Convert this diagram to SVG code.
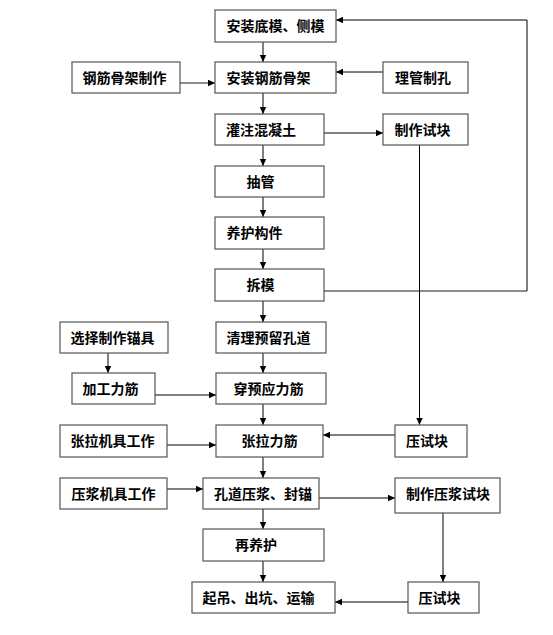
<svg xmlns="http://www.w3.org/2000/svg" width="553" height="635" viewBox="0 0 553 635">
<style>
.box{fill:#fff;stroke:#555;stroke-width:1.2}
.t{font-family:"Noto Sans CJK SC","Noto Sans CJK JP",sans-serif;font-size:14px;font-weight:700;fill:#000}
.c{stroke:#000;stroke-width:1;fill:none}
.g{stroke:#666;stroke-width:1.4;fill:none}
</style>
<defs>
<marker id="a" markerUnits="userSpaceOnUse" markerWidth="8" markerHeight="8" refX="7" refY="4" orient="auto">
<path d="M0,0.8 L7,4 L0,7.2 Z" fill="#000"/>
</marker>
</defs>
<rect width="553" height="635" fill="#fff"/>
<g id="connectors">
<path class="c" d="M263,42 V62" marker-end="url(#a)"/>
<path class="c" d="M263,93 V114" marker-end="url(#a)"/>
<path class="c" d="M263,145 V166" marker-end="url(#a)"/>
<path class="c" d="M263,197 V217" marker-end="url(#a)"/>
<path class="c" d="M263,249 V269" marker-end="url(#a)"/>
<path class="c" d="M263,301 V322" marker-end="url(#a)"/>
<path class="c" d="M263,353 V373" marker-end="url(#a)"/>
<path class="c" d="M263,404 V425" marker-end="url(#a)"/>
<path class="c" d="M263,457 V478" marker-end="url(#a)"/>
<path class="c" d="M263,509 V529" marker-end="url(#a)"/>
<path class="c" d="M263,561 V582" marker-end="url(#a)"/>
<path class="g" d="M180,83 H215" marker-end="url(#a)"/>
<path class="c" d="M383,72 H336" marker-end="url(#a)"/>
<path class="c" d="M324,133 H383" marker-end="url(#a)"/>
<path class="g" d="M324,291 H527"/>
<path class="c" d="M527,291 V20 H336" marker-end="url(#a)"/>
<path class="c" d="M419.5,145 V425" marker-end="url(#a)"/>
<path class="c" d="M108,353 V373" marker-end="url(#a)"/>
<path class="c" d="M155,395 H216" marker-end="url(#a)"/>
<path class="c" d="M167,445 H216" marker-end="url(#a)"/>
<path class="c" d="M395,435 H323" marker-end="url(#a)"/>
<path class="c" d="M167,489 H203" marker-end="url(#a)"/>
<path class="c" d="M319,498 H395" marker-end="url(#a)"/>
<path class="c" d="M443,513 V582" marker-end="url(#a)"/>
<path class="c" d="M408,602 H335" marker-end="url(#a)"/>
</g>
<g id="n1"><rect class="box" x="215" y="10" width="121" height="32"/><text class="t" x="226.5" y="31">安装底模、侧模</text></g>
<g id="n2"><rect class="box" x="215" y="62" width="121" height="31"/><text class="t" x="226.5" y="82.5">安装钢筋骨架</text></g>
<g id="n3"><rect class="box" x="383" y="62" width="85" height="31"/><text class="t" x="395" y="82.5">理管制孔</text></g>
<g id="n4"><rect class="box" x="72" y="62" width="108" height="31"/><text class="t" x="82.5" y="82.5">钢筋骨架制作</text></g>
<g id="n5"><rect class="box" x="215" y="114" width="109" height="31"/><text class="t" x="226" y="134.5">灌注混凝土</text></g>
<g id="n6"><rect class="box" x="383" y="114" width="85" height="31"/><text class="t" x="394.5" y="134.5">制作试块</text></g>
<g id="n7"><rect class="box" x="215" y="166" width="109" height="31"/><text class="t" x="246.5" y="186.5">抽管</text></g>
<g id="n8"><rect class="box" x="215" y="217" width="109" height="32"/><text class="t" x="226.5" y="238">养护构件</text></g>
<g id="n9"><rect class="box" x="215" y="269" width="109" height="32"/><text class="t" x="246.5" y="290">拆模</text></g>
<g id="n10"><rect class="box" x="60" y="322" width="108" height="31"/><text class="t" x="70.5" y="342.5">选择制作锚具</text></g>
<g id="n11"><rect class="box" x="216" y="322" width="110" height="31"/><text class="t" x="226.5" y="342.5">清理预留孔道</text></g>
<g id="n12"><rect class="box" x="72" y="373" width="83" height="31"/><text class="t" x="82.5" y="393.5">加工力筋</text></g>
<g id="n13"><rect class="box" x="216" y="373" width="110" height="31"/><text class="t" x="233.5" y="393.5">穿预应力筋</text></g>
<g id="n14"><rect class="box" x="60" y="425" width="107" height="32"/><text class="t" x="70.5" y="446">张拉机具工作</text></g>
<g id="n15"><rect class="box" x="216" y="425" width="107" height="32"/><text class="t" x="241.5" y="446">张拉力筋</text></g>
<g id="n16"><rect class="box" x="395" y="425" width="72" height="32"/><text class="t" x="406" y="446">压试块</text></g>
<g id="n17"><rect class="box" x="60" y="478" width="107" height="31"/><text class="t" x="71.5" y="498.5">压浆机具工作</text></g>
<g id="n18"><rect class="box" x="203" y="478" width="116" height="31"/><text class="t" x="214" y="498.5">孔道压浆、封锚</text></g>
<g id="n19"><rect class="box" x="395" y="478" width="105" height="35"/><text class="t" x="406" y="498.5">制作压浆试块</text></g>
<g id="n20"><rect class="box" x="203" y="529" width="121" height="32"/><text class="t" x="235" y="550">再养护</text></g>
<g id="n21"><rect class="box" x="192" y="582" width="143" height="31"/><text class="t" x="202.5" y="602.5">起吊、出坑、运输</text></g>
<g id="n22"><rect class="box" x="408" y="582" width="71" height="31"/><text class="t" x="418.5" y="602.5">压试块</text></g>
</svg>
